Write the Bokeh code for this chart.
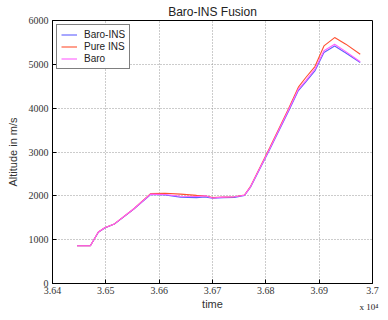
from bokeh.plotting import figure
from bokeh.models import FixedTicker, Legend, LegendItem, Title
from bokeh.embed import file_html
from bokeh.resources import INLINE

time = [36446, 36471, 36486, 36498, 36516, 36552, 36584, 36611, 36640, 36670, 36686, 36700,
        36720, 36741, 36760, 36771, 36807, 36843, 36861, 36875, 36892, 36909, 36929, 36950, 36977]
baro_ins = [860, 860, 1170, 1265, 1355, 1690, 2030, 2020, 1970, 1960, 1975, 1945,
            1955, 1965, 2010, 2190, 3050, 3940, 4400, 4600, 4850, 5270, 5420, 5260, 5040]
pure_ins = [860, 860, 1175, 1270, 1360, 1700, 2050, 2060, 2040, 2010, 2000, 1960,
            1970, 1980, 2020, 2210, 3090, 4000, 4480, 4700, 4950, 5420, 5610, 5460, 5230]
baro = [860, 860, 1175, 1270, 1360, 1700, 2040, 2030, 1990, 1985, 2000, 1950,
        1970, 1980, 2015, 2200, 3070, 3970, 4430, 4630, 4890, 5310, 5460, 5290, 5060]

x_ticks = [36400, 36500, 36600, 36700, 36800, 36900, 37000]
x_labels = ["3.64", "3.65", "3.66", "3.67", "3.68", "3.69", "3.7"]
y_ticks = [0, 1000, 2000, 3000, 4000, 5000, 6000]

p = figure(width=380, height=312, output_backend="svg", toolbar_location=None,
           x_range=(36400, 37000), y_range=(0, 6000),
           min_border_left=52, min_border_right=8, min_border_top=20, min_border_bottom=27)

p.title.text = "Baro-INS Fusion"
p.title.align = "center"
p.title.text_font = "Liberation Sans"
p.title.text_font_size = "12px"
p.title.text_font_style = "normal"
p.title.text_color = "#222222"
p.title.standoff = 4
p.title.offset = 0

p.outline_line_color = "black"
p.outline_line_width = 1

for ax in (p.xaxis[0], p.yaxis[0]):
    ax.major_label_text_font = "Liberation Serif"
    ax.major_label_text_font_size = "10px"
    ax.major_label_text_color = "#333333"
    ax.axis_label_text_font = "Liberation Sans"
    ax.axis_label_text_font_size = "11px"
    ax.axis_label_text_font_style = "normal"
    ax.axis_label_text_color = "#333333"
    ax.major_tick_in = 4
    ax.major_tick_out = 0
    ax.minor_tick_line_color = None
    ax.axis_line_color = "black"

p.xaxis.ticker = FixedTicker(ticks=x_ticks)
p.xaxis.major_label_overrides = {t: l for t, l in zip(x_ticks, x_labels)}
p.xaxis.axis_label = "time"
p.xaxis.axis_label_standoff = 1
p.xaxis.major_label_standoff = 3
p.yaxis.ticker = FixedTicker(ticks=y_ticks)
p.yaxis.axis_label = "Altitude in m/s"
p.yaxis.axis_label_standoff = 7
p.yaxis.major_label_standoff = 4

p.grid.grid_line_color = "#999999"
p.grid.grid_line_dash = "1 2"
p.grid.grid_line_width = 1

r1 = p.line(time, baro_ins, line_color="#6060ff", line_width=1.1)
r2 = p.line(time, pure_ins, line_color="#ff5030", line_width=1.1)
r3 = p.line(time, baro, line_color="#ff60ff", line_width=1.1)

legend = Legend(items=[LegendItem(label="Baro-INS", renderers=[r1]),
                       LegendItem(label="Pure INS", renderers=[r2]),
                       LegendItem(label="Baro", renderers=[r3])],
                location="top_left")
legend.label_text_font = "Liberation Sans"
legend.label_text_font_size = "10px"
legend.label_text_color = "#222222"
legend.label_height = 11
legend.glyph_height = 11
legend.glyph_width = 16
legend.spacing = 1
legend.padding = 4
legend.margin = 4
legend.border_line_color = "black"
legend.label_standoff = 7
p.add_layout(legend)

exp_title = Title(text="x 10\u2074", align="right", vertical_align="top",
                  text_font="Liberation Serif", text_font_size="9px",
                  text_font_style="normal", text_color="#222222",
                  standoff=-22, offset=-6)
p.add_layout(exp_title, "below")

open("out.html", "w").write(file_html(p, INLINE))
